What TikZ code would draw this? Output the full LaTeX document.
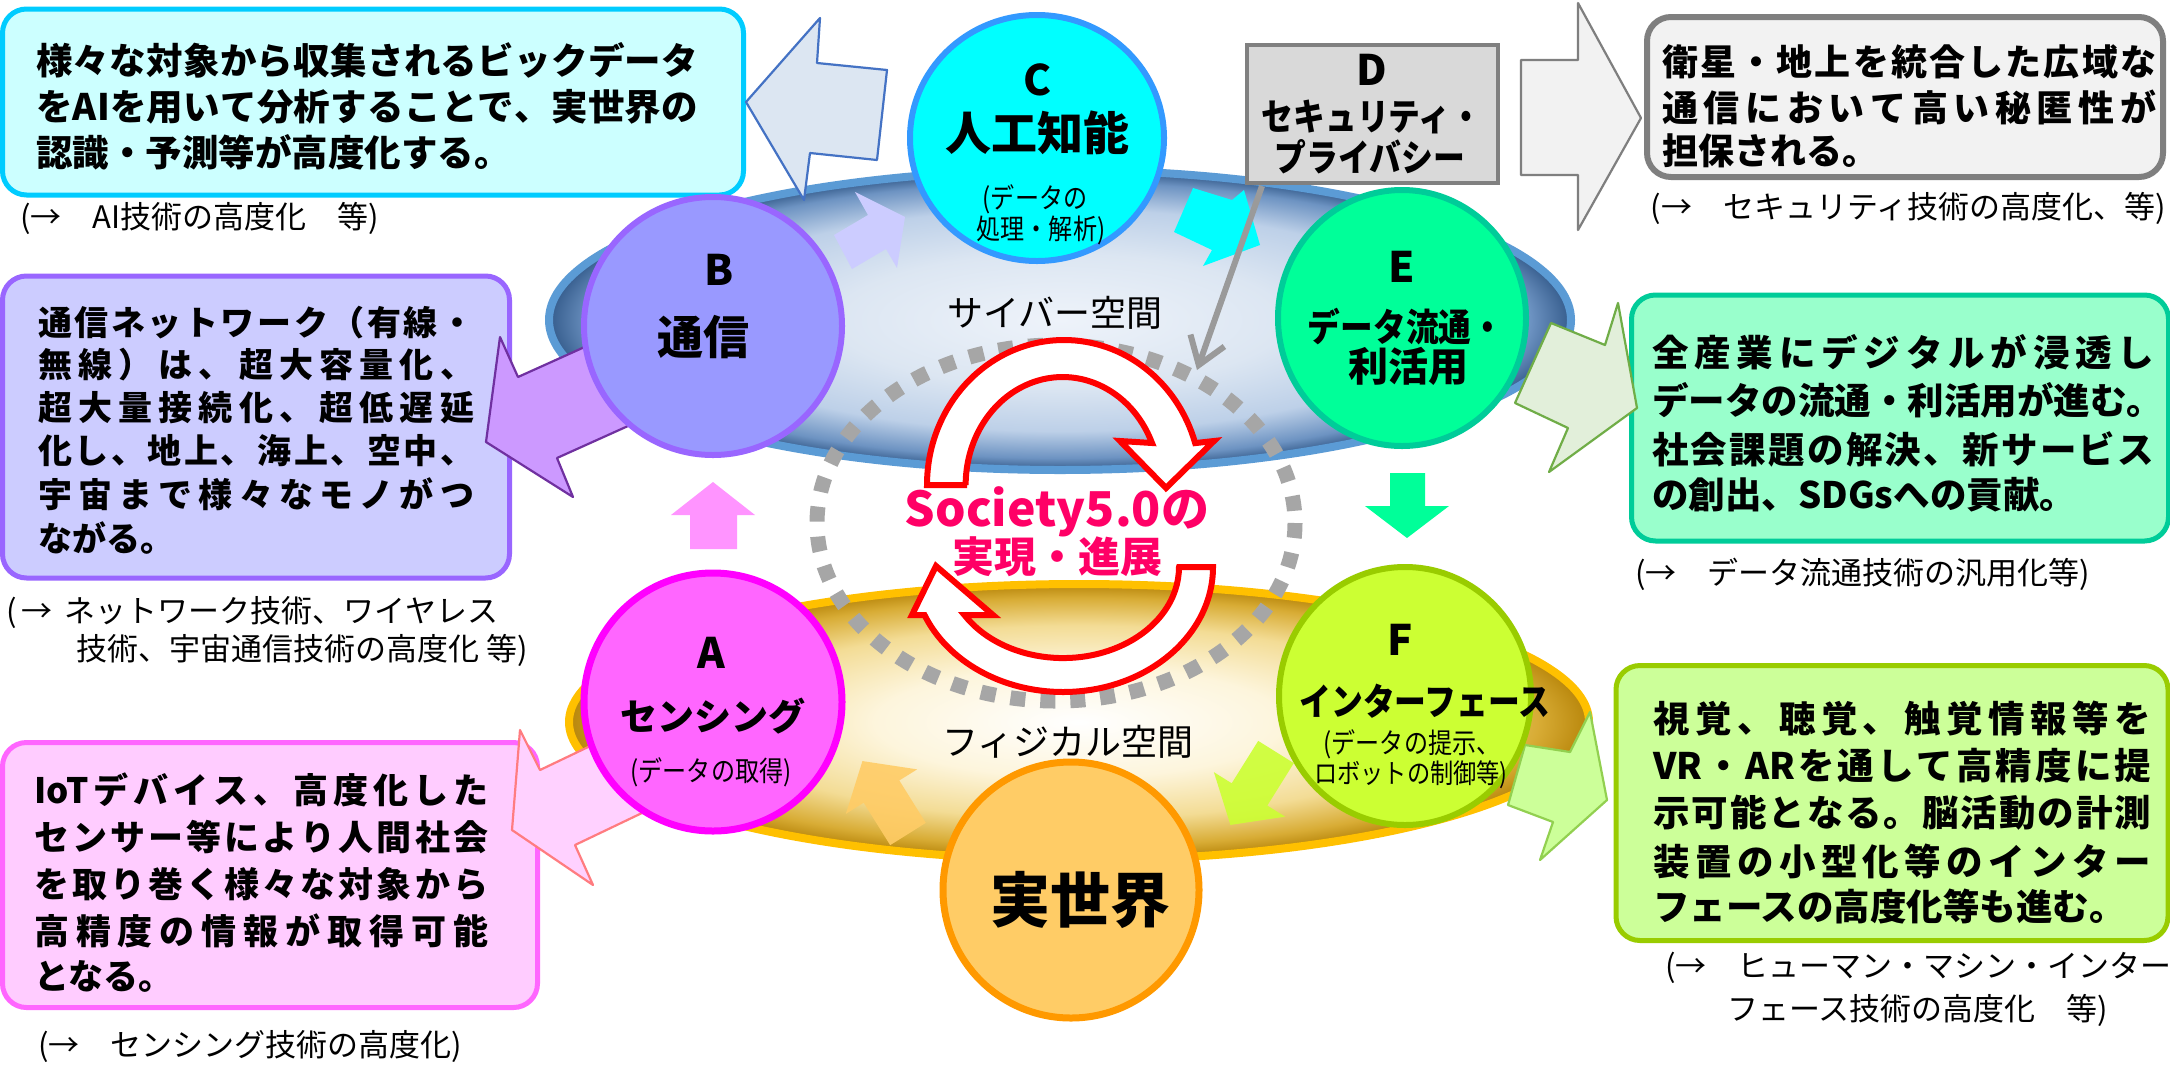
\documentclass[tikz,border=0pt]{standalone}
\usepackage{fontspec}
\setmainfont{Noto Sans CJK JP}
\newfontfamily\jpn{Noto Sans CJK JP}[FakeStretch=0.86]
\usetikzlibrary{arrows.meta,shapes.geometric}
% letter-spaced (justified) line: \jline{width}{text}
\def\jendmark{\jendmark}
\def\jendmarkdef{\jendmark}
\def\jspread#1{\def\jtmp{#1}\ifx\jtmp\jendmarkdef\else#1\expandafter\jspreadnext\fi}
\def\jspreadnext#1{\def\jtmp{#1}\ifx\jtmp\jendmarkdef\else\hfil#1\expandafter\jspreadnext\fi}
\newcommand\jline[2]{\hbox to #1pt{\jspread#2\jendmark}}
\definecolor{cyanF}{HTML}{CCFFFF}\definecolor{cyanD}{HTML}{00CCFF}
\definecolor{grayF}{HTML}{F2F2F2}\definecolor{grayD}{HTML}{7F7F7F}
\definecolor{mintF}{HTML}{99FFCC}\definecolor{mintD}{HTML}{00CC99}
\definecolor{limeF}{HTML}{CCFF99}\definecolor{limeD}{HTML}{99CC00}
\definecolor{lavF}{HTML}{CCCCFF}\definecolor{lavD}{HTML}{9966FF}
\definecolor{pinkF}{HTML}{FFCCFF}\definecolor{pinkD}{HTML}{FF66FF}
\definecolor{arrLB}{HTML}{DCE6F2}\definecolor{arrLBd}{HTML}{4472C4}
\definecolor{arrPu}{HTML}{CC99FF}\definecolor{arrPud}{HTML}{7030A0}
\definecolor{arrPk}{HTML}{FFD1FF}\definecolor{arrPkd}{HTML}{FF7C80}
\definecolor{arrE}{HTML}{E2EFDA}\definecolor{arrEd}{HTML}{70AD47}
\definecolor{arrF}{HTML}{CCFF99}\definecolor{arrFd}{HTML}{92D050}
\definecolor{cC}{HTML}{00FFFF}\definecolor{cCd}{HTML}{3399FF}
\definecolor{cB}{HTML}{9999FF}\definecolor{cBd}{HTML}{9966FF}
\definecolor{cE}{HTML}{00FF99}\definecolor{cEd}{HTML}{00CC99}
\definecolor{cA}{HTML}{FF66FF}\definecolor{cAd}{HTML}{FF00FF}
\definecolor{cF}{HTML}{CCFF33}\definecolor{cFd}{HTML}{99CC00}
\definecolor{cR}{HTML}{FFCC66}\definecolor{cRd}{HTML}{FF9900}
\definecolor{dF}{HTML}{D9D9D9}\definecolor{dD}{HTML}{808080}
\definecolor{socred}{HTML}{FF0066}
\definecolor{ringc}{HTML}{A6A6A6}
\definecolor{connc}{HTML}{9A9A9A}
\definecolor{cybB}{HTML}{5B9BD5}
\definecolor{goldB}{HTML}{FFC000}
\definecolor{cyA}{HTML}{EEF3FA}\definecolor{cyB}{HTML}{DCE6F2}\definecolor{cyC}{HTML}{BDD0E8}
\definecolor{cyD}{HTML}{6D93C2}\definecolor{cyE}{HTML}{355C8C}
\definecolor{goA}{HTML}{FFFFFF}\definecolor{goB}{HTML}{FDF5DC}\definecolor{goC}{HTML}{F3DC95}
\definecolor{goD}{HTML}{D8AC35}\definecolor{goE}{HTML}{B8860B}
\pgfdeclareradialshading{cybershade}{\pgfpoint{0bp}{0bp}}{color(0bp)=(cyA); color(11bp)=(cyB); color(18.5bp)=(cyC); color(23bp)=(cyD); color(25bp)=(cyE); color(50bp)=(cyE)}
\pgfdeclareradialshading{goldshade}{\pgfpoint{0bp}{0bp}}{color(0bp)=(goA); color(10bp)=(goB); color(17.5bp)=(goC); color(22.5bp)=(goD); color(25bp)=(goE); color(50bp)=(goE)}
\begin{document}
\begin{tikzpicture}[x=1pt,y=-1pt,
  t/.style={inner sep=0pt},
  bodytext/.style={t, anchor=west, font=\bfseries\fontsize{#1}{#1}\selectfont},
  captext/.style={t, anchor=west, font=\fontsize{31}{31}\selectfont},
  letter/.style={t, font=\bfseries\fontsize{42}{42}\selectfont},
  clabel/.style={t, font=\bfseries\fontsize{#1}{#1}\selectfont},
  cnarrow/.style={t, font=\jpn\bfseries\fontsize{#1}{#1}\selectfont},
  csmall/.style={t, font=\jpn\fontsize{#1}{#1}\selectfont},
  spacelabel/.style={t, font=\fontsize{36}{36}\selectfont},
  rbox/.style={rectangle, rounded corners=24pt, line width=5pt, inner sep=0pt},
  circ/.style={ellipse, line width=6pt, inner sep=0pt},
  bigarrow/.style={line width=2.2pt, line join=round},
  redarrow/.style={fill=white, draw=red, line width=6pt, line join=miter},
  flowarrow/.style={opacity=0.9},
]
\useasboundingbox (0,0) rectangle (2170,1066);
\fill[white] (0,0) rectangle (2170,1066);

% ---------- explanation boxes ----------
\node[rbox, draw=cyanD, fill=cyanF, minimum width=741, minimum height=186] (boxC) at (373,102) {};
\node[bodytext=36.5] (tc1) at (36,60) {\jline{662}{様々な対象から収集されるビックデータ}};
\node[bodytext=36.5] (tc2) at (36,107) {\jline{662}{を{AI}を用いて分析することで、実世界の}};
\node[bodytext=36.5] (tc3) at (36,152) {認識・予測等が高度化する。};
\node[captext] (capC) at (20,218) {(→　AI技術の高度化　等)};

\node[rbox, draw=grayD, fill=grayF, line width=6pt, minimum width=516, minimum height=160] (boxD) at (1905,97) {};
\node[bodytext=36] (td1) at (1662,62) {\jline{494}{衛星・地上を統合した広域な}};
\node[bodytext=36] (td2) at (1662,107) {\jline{494}{通信において高い秘匿性が}};
\node[bodytext=36] (td3) at (1662,151) {担保される。};
\node[captext, anchor=east] (capD) at (2166,208) {(→　セキュリティ技術の高度化、等)};

\node[rbox, draw=mintD, fill=mintF, minimum width=537, minimum height=246] (boxE) at (1900,418) {};
\node[bodytext=36.5] (te1) at (1652,352) {\jline{502}{全産業にデジタルが浸透し}};
\node[bodytext=36.5] (te2) at (1652,400) {データの流通・利活用が進む。};
\node[bodytext=36.5] (te3) at (1652,449) {\jline{502}{社会課題の解決、新サービス}};
\node[bodytext=36.5] (te4) at (1652,495) {の創出、SDGsへの貢献。};
\node[captext] (capE) at (1635,574) {(→　データ流通技術の汎用化等)};

\node[rbox, draw=limeD, fill=limeF, minimum width=552, minimum height=275] (boxF) at (1892,803) {};
\node[bodytext=36.5] (tf1) at (1653,718) {\jline{498}{視覚、聴覚、触覚情報等を}};
\node[bodytext=36.5] (tf2) at (1653,766) {\jline{498}{{VR}・{AR}を通して高精度に提}};
\node[bodytext=36.5] (tf3) at (1653,813) {\jline{498}{示可能となる。脳活動の計測}};
\node[bodytext=36.5] (tf4) at (1653,861) {\jline{498}{装置の小型化等のインター}};
\node[bodytext=36.5] (tf5) at (1653,907) {フェースの高度化等も進む。};
\node[captext] (capF1) at (1665,968) {(→　ヒューマン・マシン・インター};
\node[captext] (capF2) at (1727,1010) {フェース技術の高度化　等)};

\node[rbox, draw=lavD, fill=lavF, minimum width=507, minimum height=302] (boxB) at (256,427) {};
\node[bodytext=34] (tb1) at (38,323) {\jline{436}{通信ネットワーク（有線・}};
\node[bodytext=34] (tb2) at (38,365) {\jline{436}{無線）は、超大容量化、}};
\node[bodytext=34] (tb3) at (38,408) {\jline{436}{超大量接続化、超低遅延}};
\node[bodytext=34] (tb4) at (38,451) {\jline{436}{化し、地上、海上、空中、}};
\node[bodytext=34] (tb5) at (38,494) {\jline{436}{宇宙まで様々なモノがつ}};
\node[bodytext=34] (tb6) at (38,538) {ながる。};
\node[captext] (capB1) at (6,613) {(\,→\,\ ネットワーク技術、ワイヤレス};
\node[captext] (capB2) at (76,650) {技術、宇宙通信技術の高度化 等)};

\node[rbox, draw=pinkD, fill=pinkF, minimum width=535, minimum height=265] (boxA) at (270,875) {};
\node[bodytext=35] (ta1) at (34,790) {\jline{454}{{IoT}デバイス、高度化した}};
\node[bodytext=35] (ta2) at (34,837) {\jline{454}{センサー等により人間社会}};
\node[bodytext=35] (ta3) at (34,884) {\jline{454}{を取り巻く様々な対象から}};
\node[bodytext=35] (ta4) at (34,931) {\jline{454}{高精度の情報が取得可能}};
\node[bodytext=35] (ta5) at (34,976) {となる。};
\node[captext] (capA) at (38,1046) {(→　センシング技術の高度化)};

% ---------- spaces ----------
\node[ellipse, inner sep=0pt, shade, shading=cybershade, draw=cybB, line width=8pt,
      minimum width=1022, minimum height=300] (cyber) at (1060,320) {};
\node[ellipse, inner sep=0pt, shade, shading=goldshade, draw=goldB, line width=8pt,
      minimum width=1020, minimum height=276] (phys) at (1079,722) {};
\node[spacelabel] (cyberlbl) at (1055,313) {サイバー空間};
\node[spacelabel] (physlbl) at (1068,742) {フィジカル空間};

% dashed ring
\draw[ringc, line width=15pt, dash pattern=on 15pt off 15pt] (1056,523) ellipse[x radius=239, y radius=178];

% circular red arrows
\filldraw[redarrow] (967,485) -- (927,485)
  arc[start angle=180, end angle=343.2, x radius=137, y radius=145]
  -- (1214,441) -- (1166,488) -- (1120,441) -- (1152,443)
  arc[start angle=337.1, end angle=180, x radius=97, y radius=108] -- cycle;
\filldraw[redarrow] (1179,567) -- (1213,567)
  arc[start angle=0, end angle=157.4, x radius=150, y radius=125]
  -- (912,615) -- (936,566) -- (993,615) -- (964.4,615)
  arc[start angle=148.2, end angle=0, x radius=116, y radius=91] -- cycle;
\node[clabel=48, text=socred] (soc1) at (1057,512) {Society5.0の};
\node[clabel=42, text=socred] (soc2) at (1057,557) {実現・進展};

% ---------- block arrows ----------
\filldraw[bigarrow, fill=arrLB, draw=arrLBd] (746,102) -- (820,18) -- (817,63) -- (887,70) -- (877,160) -- (810,153) -- (804,200) -- cycle;
\filldraw[bigarrow, fill=grayF, draw=grayD] (1521,60) -- (1578,60) -- (1578,3) -- (1641,118) -- (1578,230) -- (1578,175) -- (1521,175) -- cycle;
\filldraw[bigarrow, fill=arrPu, draw=arrPud] (486,442) -- (500,337) -- (518,377) -- (609,336) -- (648,417) -- (557,458) -- (573,497) -- cycle;
\filldraw[bigarrow, fill=arrPk, draw=arrPkd] (512,830) -- (520,730) -- (540,770) -- (630,727) -- (665,802) -- (575,845) -- (593,885) -- cycle;
\filldraw[bigarrow, fill=arrE, draw=arrEd] (1515,403) -- (1551,323) -- (1605,345) -- (1618,303) -- (1637,408) -- (1549,472) -- (1568,428) -- cycle;
\filldraw[bigarrow, fill=arrF, draw=arrFd] (1508,805) -- (1525,745) -- (1570,752) -- (1590,712) -- (1607,800) -- (1540,860) -- (1553,822) -- cycle;

% small flow arrows
\fill[lavF] (834,235) -- (868,215) -- (855,192) -- (905,217) -- (897,268) -- (886,249) -- (852,269) -- cycle;
\fill[cC] (1174,232) -- (1193,188) -- (1232,200) -- (1244,190) -- (1260,245) -- (1203,266) -- (1212,250) -- cycle;
\fill[pinkD!70!white] (690,549) -- (690,515) -- (671,515) -- (713,482) -- (755,515) -- (737,515) -- (737,549) -- cycle;
\fill[cE] (1390,473) -- (1425,473) -- (1425,506) -- (1449,506) -- (1407,538) -- (1365,506) -- (1390,506) -- cycle;
\begin{scope}[shift={(908,834)}, rotate=122]
  \fill[cR, flowarrow] (0,-21) -- (50,-21) -- (50,-42) -- (86,0) -- (50,42) -- (50,21) -- (0,21) -- cycle;
\end{scope}
\begin{scope}[shift={(1276,752)}, rotate=238]
  \fill[cF, flowarrow] (0,-21) -- (50,-21) -- (50,-42) -- (86,0) -- (50,42) -- (50,21) -- (0,21) -- cycle;
\end{scope}

% ---------- circles ----------
\node[circ, draw=cCd, fill=cC, minimum width=254, minimum height=246] (nC) at (1037,138) {};
\node[circ, draw=cBd, fill=cB, minimum width=258, minimum height=258] (nB) at (713,326) {};
\node[circ, draw=cEd, fill=cE, minimum width=248, minimum height=256] (nE) at (1402,318) {};
\node[circ, draw=cAd, fill=cA, line width=7pt, minimum width=258, minimum height=258] (nA) at (713,702) {};
\node[circ, draw=cFd, fill=cF, minimum width=252, minimum height=258] (nF) at (1405,696) {};
\node[circ, draw=cRd, fill=cR, line width=7pt, minimum width=256, minimum height=256] (nR) at (1071,890) {};

\node[letter] (lC) at (1037,80) {C};
\node[clabel=46] (lC2) at (1037,133) {人工知能};
\node[csmall=28] (lC3) at (1035,199) {(データの};
\node[csmall=28] (lC4) at (1041,230) {処理・解析)};

\node[letter] (lB) at (719,270) {B};
\node[clabel=46] (lB2) at (703,337) {通信};

\node[letter] (lE) at (1402,267) {E};
\node[cnarrow=38] (lE2) at (1406,327) {データ流通・};
\node[clabel=40] (lE3) at (1408,366) {利活用};

\node[letter] (lA) at (711,653) {A};
\node[clabel=37] (lA2) at (713,716) {センシング};
\node[csmall=28] (lA3) at (711,772) {(データの取得)};

\node[letter] (lF) at (1400,640) {F};
\node[cnarrow=37] (lF2) at (1425,701) {インターフェース};
\node[csmall=28] (lF3) at (1412,744) {(データの提示、};
\node[csmall=27] (lF4) at (1411,775) {ロボットの制御等)};

\node[clabel=60] (lR) at (1080,900) {実世界};

% ---------- D box ----------
\node[rectangle, draw=dD, fill=dF, line width=4pt, inner sep=0pt, minimum width=251, minimum height=138] (dbox) at (1372,114) {};
\node[letter] (lD) at (1372,70) {D};
\node[cnarrow=37] (lD2) at (1372,117) {セキュリティ・};
\node[cnarrow=37] (lD3) at (1370,157) {プライバシー};

% connector
\coordinate (dtail) at (1262,186);
\coordinate (dhead) at (1197,370);
\draw[connc, line width=6pt, -{Straight Barb[length=26pt,width=36pt]}] (dtail) -- (dhead);
\end{tikzpicture}
\end{document}
